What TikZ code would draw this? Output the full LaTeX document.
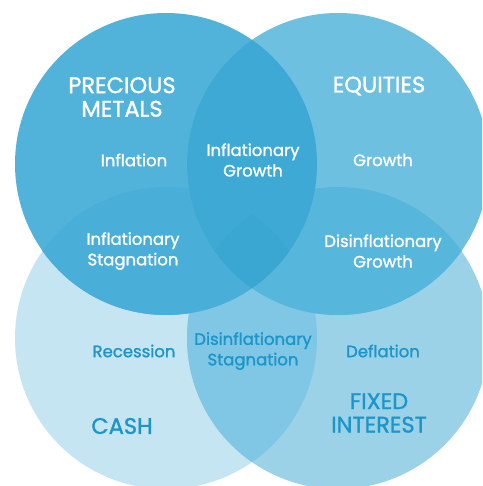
\documentclass[tikz,border=0pt]{standalone}
\usepackage{fontspec}
\setmainfont{Poppins}
\newfontfamily\labelfont{Poppins}[FakeBold=1.3]
\usetikzlibrary{positioning}

\definecolor{blonly}{HTML}{C4E5F1}
\definecolor{bronly}{HTML}{9BD2E8}
\definecolor{blbr}{HTML}{7FC7E4}
\definecolor{tlonly}{HTML}{52B3DA}
\definecolor{tronly}{HTML}{6DC0E0}
\definecolor{tlbl}{HTML}{4AAFD8}
\definecolor{trbr}{HTML}{56B6DC}
\definecolor{tltr}{HTML}{3EA9D4}
\definecolor{allfour}{HTML}{3AA7D3}
\definecolor{labelblue}{HTML}{1B95CA}

\tikzset{
assetlabel/.style={
  align=center,
  inner sep=0pt,
  font=\labelfont\fontsize{22.5}{23.5}\selectfont,
  }
}
\tikzset{
regimelabel/.style={
  align=center,
  inner sep=0pt,
  font=\labelfont\fontsize{16.5}{20.5}\selectfont,
  }
}

\begin{document}
\begin{tikzpicture}[x=1pt,y=-1pt]
    \useasboundingbox (0,0) rectangle (482,486);
    \clip (0,0) rectangle (482,486);
    \def\rad{151}

    % circle centres
    \coordinate (tl) at (166,164);
    \coordinate (tr) at (338,164);
    \coordinate (bl) at (166,338);
    \coordinate (br) at (338,338);

    % bottom circles
    \fill[blonly] (bl) circle (\rad);
    \fill[bronly] (br) circle (\rad);
    \begin{scope}
    \clip (bl) circle (\rad);
    \fill[blbr] (br) circle (\rad);
    \end{scope}

    % top circles
    \fill[tlonly] (tl) circle (\rad);
    \fill[tronly] (tr) circle (\rad);
    \begin{scope}
    \clip (tl) circle (\rad);
    \fill[tlbl] (bl) circle (\rad);
    \end{scope}
    \begin{scope}
    \clip (tr) circle (\rad);
    \fill[trbr] (br) circle (\rad);
    \end{scope}
    \begin{scope}
    \clip (tl) circle (\rad);
    \fill[tltr] (tr) circle (\rad);
    \end{scope}

    % centre
    \begin{scope}
    \clip (tl) circle (\rad);
    \clip (tr) circle (\rad);
    \clip (bl) circle (\rad);
    \fill[allfour] (br) circle (\rad);
    \end{scope}

    % asset classes
    \node[assetlabel, white] (metals) at (122,97) {PRECIOUS\\METALS};
    \node[assetlabel, white] (equities) at (379,86) {EQUITIES};
    \node[assetlabel, labelblue] (cash) at (122,426) {CASH};
    \node[assetlabel, labelblue] (fixed) at (379,413) {FIXED\\INTEREST};

    % regimes
    \node[regimelabel, white] (inflation) at (134,160) {Inflation};
    \node[regimelabel, white] (infgrowth) at (253,160) {Inflationary\\Growth};
    \node[regimelabel, white] (growth) at (383,160) {Growth};
    \node[regimelabel, white] (infstag) at (133,251) {Inflationary\\Stagnation};
    \node[regimelabel, white] (disgrowth) at (383,251) {Disinflationary\\Growth};
    \node[regimelabel, labelblue] (recession) at (134,351) {Recession};
    \node[regimelabel, labelblue] (disstag) at (253,351) {Disinflationary\\Stagnation};
    \node[regimelabel, labelblue] (deflation) at (383,351) {Deflation};
\end{tikzpicture}
\end{document}
